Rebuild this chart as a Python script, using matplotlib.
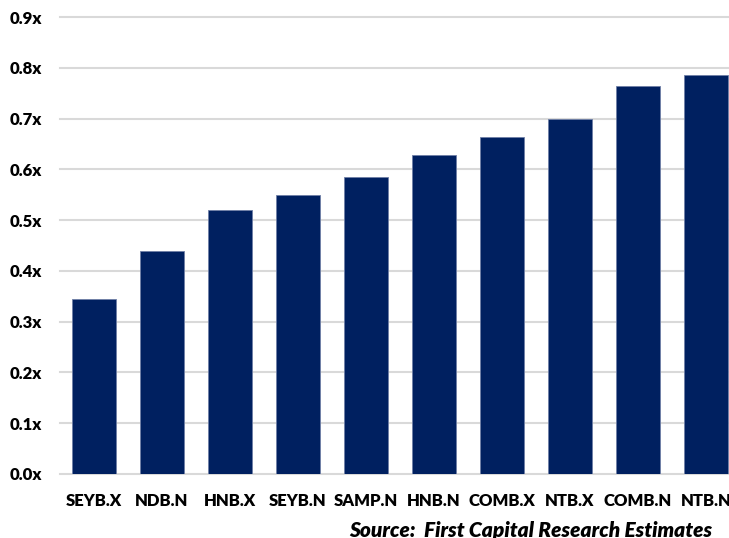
import matplotlib
matplotlib.use('Agg')
import matplotlib.pyplot as plt

banks = ['SEYB.X', 'NDB.N', 'HNB.X', 'SEYB.N', 'SAMP.N', 'HNB.N',
         'COMB.X', 'NTB.X', 'COMB.N', 'NTB.N']
pbv = [0.344, 0.439, 0.520, 0.549, 0.585, 0.628, 0.663, 0.699, 0.764, 0.786]
yticks = [0.0, 0.1, 0.2, 0.3, 0.4, 0.5, 0.6, 0.7, 0.8, 0.9]

plt.rcParams['font.family'] = ['Lato', 'DejaVu Sans']

fig = plt.figure(figsize=(7.29, 5.38), dpi=100)
ax = fig.add_axes([60 / 729, 64 / 538, 669 / 729, 457 / 538])

ax.bar(range(len(banks)), pbv, width=0.65, color='#002060',
       edgecolor='#6f7fa6', linewidth=0.6, zorder=3)

ax.set_xlim(-0.5, len(banks) - 0.5 - 11 / 68)
ax.set_ylim(0, 0.9)
ax.set_yticks(yticks)
ax.set_yticklabels(['%.1fx' % v for v in yticks], fontsize=12, fontweight='heavy')
ax.set_xticks(range(len(banks)))
ax.set_xticklabels(banks, fontsize=12, fontweight='heavy')

ax.grid(axis='y', color='#d9d9d9', linewidth=1.5, zorder=0)
for g in ax.get_ygridlines():
    g.set_clip_on(False)
for s in ax.spines.values():
    s.set_visible(False)
ax.tick_params(axis='both', length=0)
ax.tick_params(axis='y', pad=13)
ax.tick_params(axis='x', pad=14)

fig.text(712 / 729, 8 / 538, 'Source:  First Capital Research Estimates',
         ha='right', va='center', fontsize=15, fontweight='heavy', style='italic')

fig.savefig('out.png', dpi=100)
